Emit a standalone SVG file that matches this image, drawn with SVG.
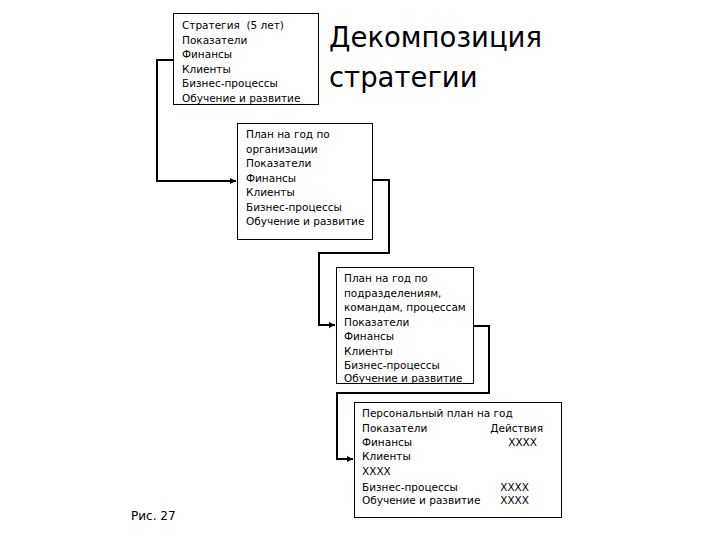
<svg xmlns="http://www.w3.org/2000/svg" width="720" height="540" viewBox="0 0 720 540">
<style>
.box{fill:#fff;stroke:#000;stroke-width:1}
.t{font-family:"DejaVu Sans",sans-serif;font-size:10.5px;fill:#000}
.title{font-family:"DejaVu Sans",sans-serif;font-size:27.5px;fill:#000}
.conn{fill:none;stroke:#000;stroke-width:2}
</style>
<defs>
<marker id="arr" markerWidth="6" markerHeight="6" refX="6" refY="3" orient="auto" markerUnits="userSpaceOnUse">
<path d="M0,0 L6,3 L0,6 Z" fill="#000"/>
</marker>
</defs>
<rect width="720" height="540" fill="#fff"/>
<g id="connectors">
<polyline class="conn" points="173,60 157,60 157,181 236,181" marker-end="url(#arr)"/>
<polyline class="conn" points="372,180 389,180 389,253 319,253 319,325 335,325" marker-end="url(#arr)"/>
<polyline class="conn" points="473,326 489,326 489,393 337,393 337,459 353,459" marker-end="url(#arr)"/>
</g>
<g id="node1">
<rect class="box" x="173.5" y="13.5" width="145" height="91"/>
<text class="t" x="182" y="29">Стратегия&#160; (5 лет)</text>
<text class="t" x="182" y="43.5">Показатели</text>
<text class="t" x="182" y="58">Финансы</text>
<text class="t" x="182" y="72.5">Клиенты</text>
<text class="t" x="182" y="87">Бизнес-процессы</text>
<text class="t" x="182" y="101.5">Обучение и развитие</text>
</g>
<g id="title">
<text class="title" x="329" y="47">Декомпозиция</text>
<text class="title" x="329" y="87">стратегии</text>
</g>
<g id="node2">
<rect class="box" x="237.5" y="123.5" width="135" height="116"/>
<text class="t" x="246" y="138">План на год по</text>
<text class="t" x="246" y="152.5">организации</text>
<text class="t" x="246" y="167">Показатели</text>
<text class="t" x="246" y="181.5">Финансы</text>
<text class="t" x="246" y="196">Клиенты</text>
<text class="t" x="246" y="210.5">Бизнес-процессы</text>
<text class="t" x="246" y="225">Обучение и развитие</text>
</g>
<g id="node3">
<rect class="box" x="336.5" y="267.5" width="137" height="116"/>
<text class="t" x="344" y="282">План на год по</text>
<text class="t" x="344" y="296.5">подразделениям,</text>
<text class="t" x="344" y="311">командам, процессам</text>
<text class="t" x="344" y="325.5">Показатели</text>
<text class="t" x="344" y="340">Финансы</text>
<text class="t" x="344" y="354.5">Клиенты</text>
<text class="t" x="344" y="369">Бизнес-процессы</text>
<text class="t" x="344" y="382">Обучение и развитие</text>
</g>
<g id="node4">
<rect class="box" x="354.5" y="402.5" width="207" height="115"/>
<text class="t" x="362" y="417">Персональный план на год</text>
<text class="t" x="362" y="432">Показатели</text>
<text class="t" x="543" y="432" text-anchor="end">Действия</text>
<text class="t" x="362" y="446">Финансы</text>
<text class="t" x="537" y="446" text-anchor="end">XXXX</text>
<text class="t" x="362" y="460">Клиенты</text>
<text class="t" x="362" y="475">XXXX</text>
<text class="t" x="362" y="491">Бизнес-процессы</text>
<text class="t" x="529" y="491" text-anchor="end">XXXX</text>
<text class="t" x="362" y="504">Обучение и развитие</text>
<text class="t" x="529" y="504" text-anchor="end">XXXX</text>
</g>
<g id="caption">
<text class="t" x="131" y="520" style="font-size:12px">Рис. 27</text>
</g>
</svg>
